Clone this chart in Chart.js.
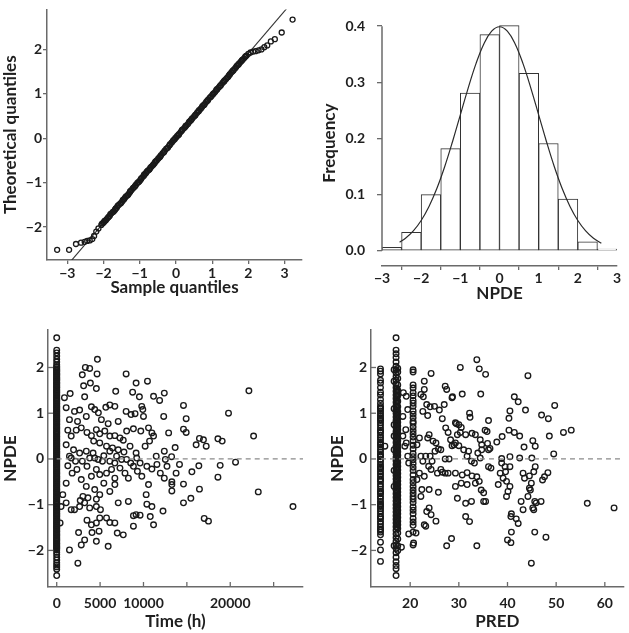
<!DOCTYPE html>
<html>
<head>
<meta charset="utf-8">
<title>NPDE diagnostics</title>
<script src="https://cdn.jsdelivr.net/npm/chart.js@4.4.0/dist/chart.umd.min.js"></script>
<style>
  body { margin: 0; background: #fff; }
  #wrap { position: relative; width: 629px; height: 633px; }
  canvas { position: absolute; }
</style>
</head>
<body>
<div id="wrap">
  <canvas id="qqChart" width="314" height="305" style="left:0;top:0"></canvas>
  <canvas id="histChart" width="315" height="305" style="left:314px;top:0"></canvas>
  <canvas id="timeChart" width="314" height="328" style="left:0;top:305px"></canvas>
  <canvas id="predChart" width="315" height="328" style="left:314px;top:305px"></canvas>
</div>
<script>
// ---------------- DATA ----------------
// QQ plot: [sample quantile, theoretical quantile]
const qqPoints = [
  [-3.28,-2.51],[-2.95,-2.51],[-2.76,-2.38],[-2.62,-2.35],[-2.52,-2.33],[-2.45,-2.31],[-2.38,-2.30],
  [-2.31,-2.27],[-2.26,-2.20],[-2.20,-2.10],[-2.14,-2.03],
  [-2.06,-1.95],[-2.01,-1.91],[-1.97,-1.86],[-1.91,-1.82],[-1.86,-1.77],[-1.81,-1.71],[-1.74,-1.66],
  [-1.69,-1.62],[-1.66,-1.58],[-1.61,-1.52],[-1.54,-1.47],[-1.49,-1.43],[-1.46,-1.39],[-1.41,-1.34],
  [-1.34,-1.29],[-1.29,-1.24],[-1.26,-1.19],[-1.19,-1.13],[-1.14,-1.09],[-1.11,-1.05],[-1.04,-0.99],
  [-0.99,-0.95],[-0.96,-0.91],[-0.89,-0.85],[-0.86,-0.81],[-0.81,-0.76],[-0.74,-0.71],[-0.71,-0.67],
  [-0.64,-0.61],[-0.59,-0.56],[-0.56,-0.52],[-0.49,-0.46],[-0.44,-0.42],[-0.41,-0.38],[-0.34,-0.32],
  [-0.31,-0.28],[-0.24,-0.22],[-0.19,-0.17],[-0.16,-0.13],[-0.09,-0.07],[-0.04,-0.03],[0.01,0.02],
  [0.06,0.07],[0.09,0.10],[0.16,0.17],[0.19,0.20],[0.26,0.26],[0.29,0.29],[0.36,0.36],[0.41,0.40],
  [0.44,0.44],[0.51,0.50],[0.54,0.53],[0.61,0.60],[0.64,0.63],[0.71,0.69],[0.76,0.74],[0.79,0.77],
  [0.86,0.84],[0.89,0.87],[0.96,0.93],[1.01,0.98],[1.04,1.01],[1.11,1.08],[1.14,1.11],[1.21,1.17],
  [1.24,1.20],[1.31,1.27],[1.34,1.30],[1.41,1.36],[1.46,1.41],[1.49,1.44],[1.56,1.51],[1.59,1.54],
  [1.66,1.60],[1.71,1.65],[1.74,1.68],[1.81,1.74],[1.84,1.77],[1.91,1.83],
  [1.95,1.86],[2.00,1.90],[2.06,1.93],[2.13,1.95],[2.20,1.96],[2.28,1.98],[2.36,2.00],[2.44,2.05],
  [2.52,2.09],[2.62,2.18],[2.73,2.23],[2.92,2.38],[3.22,2.67]
];
// the crowded middle of the QQ plot, where the circles merge into a band
const qqBodyExtra = [
  [-2.04,-1.92],[-1.99,-1.89],[-1.94,-1.85],[-1.88,-1.79],[-1.83,-1.75],[-1.78,-1.69],[-1.72,-1.65],
  [-1.67,-1.59],[-1.63,-1.56],[-1.58,-1.50],[-1.52,-1.46],[-1.47,-1.40],[-1.43,-1.37],[-1.38,-1.31],
  [-1.32,-1.27],[-1.27,-1.21],[-1.23,-1.17],[-1.17,-1.11],[-1.12,-1.07],[-1.07,-1.01],[-1.02,-0.98],
  [-0.97,-0.92],[-0.93,-0.88],[-0.88,-0.82],[-0.83,-0.79],[-0.78,-0.73],[-0.73,-0.70],[-0.68,-0.64],
  [-0.62,-0.59],[-0.57,-0.53],[-0.53,-0.50],[-0.47,-0.44],[-0.43,-0.40],[-0.37,-0.34],[-0.33,-0.31],
  [-0.27,-0.24],[-0.22,-0.21],[-0.17,-0.15],[-0.12,-0.10],[-0.07,-0.04],[-0.02,0.00],[0.03,0.05],
  [0.08,0.08],[0.13,0.14],[0.17,0.19],[0.23,0.23],[0.27,0.28],[0.33,0.32],[0.38,0.38],[0.43,0.42],
  [0.48,0.47],[0.53,0.51],[0.58,0.57],[0.63,0.61],[0.68,0.66],[0.73,0.72],[0.78,0.75],[0.83,0.81],
  [0.88,0.85],[0.93,0.91],[0.98,0.95],[1.03,1.00],[1.08,1.04],[1.13,1.09],[1.18,1.14],[1.23,1.18],
  [1.28,1.24],[1.33,1.28],[1.38,1.33],[1.44,1.38],[1.48,1.43],[1.53,1.48],[1.58,1.52],[1.63,1.57],
  [1.68,1.63],[1.73,1.66],[1.78,1.71],[1.83,1.76],[1.88,1.80],[1.93,1.85]
];
const qqLine = [[-3.0,-2.86],[3.1,2.96]];

// histogram of NPDE (bin centres, relative frequency)
const binCenters = [-2.75,-2.25,-1.75,-1.25,-0.75,-0.25,0.25,0.75,1.25,1.75,2.25,2.75];
const binFreq = [0.006,0.033,0.100,0.182,0.281,0.385,0.401,0.316,0.191,0.092,0.016,0.003];
const curveX = [-2.55,-2.4,-2.2,-2.0,-1.8,-1.6,-1.4,-1.2,-1.0,-0.8,-0.6,-0.4,-0.2,0,0.2,0.4,0.6,0.8,1.0,1.2,1.4,1.6,1.8,2.0,2.2,2.4,2.6];
const curveY = [0.0154,0.0224,0.0355,0.0540,0.0790,0.1109,0.1497,0.1942,0.2420,0.2897,0.3332,0.3683,0.3910,0.3989,0.3910,0.3683,0.3332,0.2897,0.2420,0.1942,0.1497,0.1109,0.0790,0.0540,0.0355,0.0224,0.0136];

// NPDE vs time: column of samples at time 0, then the rest
const timeZeroNpde = [
  2.65,2.38,2.32,2.25,2.18,2.12,2.06,2.02,1.97,1.93,1.88,1.84,1.79,1.75,1.71,1.66,1.61,1.57,1.52,1.48,
  1.44,1.39,1.34,1.30,1.26,1.21,1.16,1.12,1.07,1.03,0.99,0.94,0.89,0.85,0.81,0.76,0.71,0.67,0.62,0.58,
  0.54,0.49,0.44,0.40,0.35,0.31,0.27,0.22,0.17,0.13,0.08,0.04,-0.01,-0.05,-0.10,-0.14,-0.18,-0.23,
  -0.28,-0.32,-0.37,-0.41,-0.45,-0.50,-0.55,-0.59,-0.64,-0.68,-0.72,-0.77,-0.82,-0.86,-0.91,-0.95,
  -0.99,-1.04,-1.09,-1.13,-1.18,-1.22,-1.26,-1.31,-1.36,-1.40,-1.45,-1.49,-1.53,-1.58,-1.63,-1.67,
  -1.72,-1.76,-1.80,-1.85,-1.90,-1.94,-1.99,-2.04,-2.09,-2.15,-2.21,-2.27,-2.32,-2.36,-2.41,-2.55,
  2.00,1.95,1.91,1.86,1.82,1.77,1.73,1.68,1.64,1.59,1.55,1.50,1.46,1.41,1.37,1.32,1.28,1.23,1.19,1.14,
  1.10,1.05,1.01,0.96,0.92,0.87,0.83,0.78,0.74,0.69,0.65,0.60,0.56,0.51,0.47,0.42,0.38,0.33,0.29,0.24,
  0.20,0.15,0.11,0.06,0.02,-0.03,-0.07,-0.12,-0.16,-0.21,-0.25,-0.30,-0.34,-0.39,-0.43,-0.48,-0.52,
  -0.57,-0.61,-0.66,-0.70,-0.75,-0.79,-0.84,-0.88,-0.93,-0.97,-1.02,-1.06,-1.11,-1.15,-1.20,-1.24,
  -1.29,-1.33,-1.38,-1.42,-1.47,-1.51,-1.56,-1.60,-1.65,-1.69,-1.74,-1.78,-1.83,-1.87,-1.92,-1.96
];
const timePoints = [
  [4690,2.18],[3300,2.0],[3800,1.98],[2950,1.84],[4650,1.86],[8000,1.86],[3100,1.6],[3880,1.66],
  [4570,1.54],[10460,1.7],[9150,1.66],[6800,1.48],[8750,1.46],[9530,1.36],[12400,1.44],[11160,1.37],
  [11860,1.28],[1550,1.43],[890,1.34],[3220,1.36],[22150,1.49],[14610,1.17],[14920,0.88],[19800,1.0],
  [22690,0.5],[1090,1.12],[2050,1.04],[2640,1.07],[4000,1.14],[4380,1.08],[4800,1.01],[5660,1.13],
  [6120,1.18],[6700,1.15],[3410,0.93],[2400,0.82],[1470,0.86],[5150,0.86],[5930,0.77],[7090,0.82],
  [8000,1.04],[8570,0.97],[9030,0.99],[9800,1.15],[10000,0.93],[9920,1.08],[12330,0.93],[8060,0.61],
  [8840,0.66],[9690,0.61],[10580,0.68],[10970,0.57],[11160,0.5],[12900,0.57],[14610,0.65],[14920,0.58],
  [16450,0.45],[16910,0.42],[17230,0.28],[16070,0.31],[18580,0.44],[19070,0.39],[13650,0.25],[12400,0.17],
  [10190,0.28],[10700,0.39],[1090,0.31],[1670,0.5],[2250,0.63],[1280,0.63],[2830,0.68],[3490,0.58],
  [4000,0.51],[4570,0.64],[4960,0.55],[5540,0.61],[6120,0.5],[6700,0.51],[7290,0.46],[7670,0.41],
  [4260,0.39],[4960,0.35],[5740,0.28],[6430,0.24],[3410,0.17],[4190,0.13],[2640,0.13],[1940,0.2],
  [7090,0.2],[7750,0.15],[8450,0.28],[9150,0.13],[5430,0.07],[6120,0.17],[6900,0.06],[11470,0.06],
  [12520,-0.01],[13240,0.05],[20610,-0.07],[18840,-0.14],[16380,-0.15],[14150,-0.12],
  [1470,0.06],[1280,-0.15],[1780,-0.31],[1090,-0.53],[2330,-0.23],[2950,-0.05],[3490,-0.16],[2830,-0.45],
  [3410,-0.6],[4000,-0.38],[4570,-0.23],[4960,-0.34],[5430,-0.53],[4380,-0.67],[4960,-0.78],[4570,-0.88],
  [5740,-0.31],[6320,-0.23],[6700,-0.42],[7290,-0.2],[7870,-0.31],[8260,-0.42],[8840,-0.16],[9300,-0.27],
  [9810,-0.38],[10390,-0.16],[10970,-0.22],[10580,-0.56],[11940,-0.31],[12400,-0.42],[13270,-0.5],
  [13270,-0.56],[13270,-0.7],[11550,-0.12],[12710,-0.16],[13760,-0.31],[15580,-0.28],[18580,-0.4],
  [14610,-0.55],[16450,-0.66],[14610,-0.96],[15460,-0.86],[23230,-0.72],[27230,-1.04],[17000,-1.3],
  [17490,-1.36],[12250,-1.14],[11160,-1.44],[10780,-1.26],[10390,-0.99],[10970,-1.04],[10310,-0.78],
  [8840,-1.24],[9150,-1.22],[9610,-1.23],[8840,-1.47],[8260,-0.93],[7090,-0.96],[6700,-0.56],[6120,-0.71],
  [5740,-1.29],[6120,-1.39],[6700,-1.4],[6980,-1.62],[7670,-1.66],[5930,-1.91],[4960,-1.29],[4570,-1.4],
  [4000,-1.44],[3490,-1.34],[4070,-1.61],[4570,-1.8],[4880,-1.58],[3220,-1.77],[2830,-1.88],[2520,-1.61],
  [1470,-1.99],[2440,-2.28],[1090,-0.96],[700,-0.78],[1670,-1.11],[2050,-1.11],[2640,-1.04],[3220,-0.96],
  [3800,-1.07],[4570,-1.04],[5040,-1.11],[3020,-0.82],[3600,-0.85],[2710,-0.91],[500,-1.04],[390,-1.4],
  [1670,0.02],[2170,-0.05],[3800,0.02],[4380,0.02],[4770,-0.01],[5270,-0.05],[6120,-0.05],[6700,-0.09],
  [7480,-0.01],[8060,-0.01],[8530,-0.09],[9220,0.02],[9610,-0.09]
];

// NPDE vs PRED: dense columns of low predictions, then the rest
const predColA = [
  1.97,1.92,1.86,1.72,1.66,1.56,1.46,1.40,1.30,1.22,1.15,1.10,1.05,1.00,0.95,0.90,0.84,0.79,0.74,0.68,
  0.63,0.58,0.52,0.47,0.42,0.36,0.31,0.26,0.20,0.15,0.10,0.05,-0.01,-0.06,-0.12,-0.17,-0.22,-0.28,-0.33,
  -0.38,-0.44,-0.49,-0.55,-0.60,-0.66,-0.71,-0.76,-0.82,-0.87,-0.93,-0.98,-1.04,-1.09,-1.14,-1.20,-1.26,
  -1.31,-1.37,-1.42,-1.48,-1.53,-1.60,-1.66,-1.82,-1.99,-2.24,
  1.12,0.87,0.60,0.33,0.07,-0.20,-0.46,-0.74,-1.01,-1.28,-1.56
];
const predColB1 = [
  2.65,2.38,2.30,2.22,2.12,2.03,1.95,1.88,1.80,1.72,1.64,1.56,1.48,1.40,1.32,1.24,1.16,1.08,1.00,0.92,
  0.84,0.76,0.68,0.60,0.52,0.44,0.36,0.28,0.20,0.12,0.04,-0.04,-0.12,-0.20,-0.28,-0.36,-0.44,-0.52,-0.60,
  -0.68,-0.76,-0.84,-0.92,-1.00,-1.08,-1.16,-1.24,-1.32,-1.40,-1.48,-1.56,-1.64,-1.72,-1.80,-1.88,-1.96,
  -2.05,-2.15,-2.25,-2.33,-2.40,-2.55
];
const predColB2 = [
  1.98,1.90,1.76,1.62,1.50,1.38,1.26,1.14,1.04,0.96,0.88,0.80,0.72,0.64,0.56,0.48,0.40,0.32,0.24,0.16,
  0.08,0.00,-0.08,-0.16,-0.24,-0.32,-0.40,-0.48,-0.56,-0.64,-0.72,-0.80,-0.88,-0.96,-1.04,-1.12,-1.20,
  -1.28,-1.36,-1.44,-1.52,-1.62,-1.75,-1.90,-2.00
];
const predColB3 = [
  1.54,1.46,1.38,1.30,1.22,1.14,1.06,0.98,0.90,0.82,0.74,0.66,0.58,0.50,0.42,0.34,0.26,0.18,0.10,0.02,
  -0.06,-0.14,-0.22,-0.30,-0.38,-0.46,-0.54,-0.62,-0.70,-0.78,-0.86,-0.94,-1.02,-1.10,-1.18,-1.26,-1.34,
  -1.42,-1.50
];
const predColC = [
  1.95,1.90,1.62,1.55,1.45,1.38,1.28,1.22,1.15,1.05,0.98,0.90,0.82,0.78,0.70,0.62,0.55,0.48,0.40,0.30,
  0.22,0.12,0.05,-0.02,-0.10,-0.18,-0.25,-0.35,-0.45,-0.52,-0.60,-0.68,-0.75,-0.82,-0.88,-0.95,-1.05,
  -1.12,-1.20,-1.30,-1.38,-1.45,-1.60,-1.88
];
const predPoints = [
  [16.7,1.95],[16.7,1.7],[16.7,1.1],[16.7,0.75],[16.7,0.5],[16.7,0.2],[16.7,-0.25],[16.7,-0.6],[16.7,-1.9],
  [14.8,0.28],[18.6,1.45],[19.2,1.37],[18.5,0.93],[19.5,1.08],[19.2,0.35],[18.5,0.5],[19.1,0.64],[18.9,0.28],
  [19.5,0.06],[19.7,-0.09],[18.2,-1.93],[19.7,-1.64],[20.7,-1.84],[21.2,-1.62],
  [24.3,1.87],[22.9,1.7],[22.9,1.52],[22.7,1.36],[22.2,1.41],[27.2,1.59],[27.5,1.52],[27.0,1.19],[23.4,1.19],
  [25.0,1.15],[24.1,1.14],[26.0,1.07],[22.6,1.04],[23.6,0.95],[26.6,0.88],[27.3,0.68],[27.8,0.58],[23.9,0.53],
  [23.6,0.46],[24.7,0.39],[25.3,0.35],[25.8,0.22],[25.1,0.17],[26.3,0.2],[21.9,0.46],[21.4,0.31],[22.2,0.06],
  [23.2,0.06],[22.6,-0.05],[23.8,-0.16],[26.3,-0.23],[27.2,-0.31],[27.8,-0.31],[23.9,-1.07],[23.4,-1.15],
  [24.3,-1.22],[25.3,-1.36],[22.9,-1.44],[23.2,-1.47],[22.4,-0.67],[23.9,-0.67],[22.2,-0.82],[25.8,-0.73],
  [21.4,-0.45],[21.9,-0.31],[22.9,-0.38],[24.1,0.06],[24.5,-0.05],[24.3,-0.23],[26.6,-0.29],[25.6,-0.31],
  [27.2,0.0],[28.0,0.0],[27.5,-1.9],[28.7,1.36],[29.3,0.79],[30.0,0.75],
  [33.7,2.17],[30.3,2.0],[34.2,1.97],[35.5,1.85],[44.2,1.82],[28.6,1.34],[30.7,1.42],[34.5,1.42],
  [41.4,1.36],[42.2,1.25],[43.7,1.07],[49.7,1.17],[40.5,1.05],[40.3,0.89],[47.0,0.96],[48.4,0.88],
  [32.2,1.0],[32.3,0.91],[36.1,0.84],[29.5,0.77],[30.5,0.69],[35.4,0.63],[35.8,0.6],[40.3,0.63],
  [41.4,0.58],[42.5,0.5],[45.2,0.4],[45.7,0.28],[48.6,0.5],[51.5,0.58],[53.1,0.63],[49.5,0.11],
  [43.4,0.26],[38.9,0.49],[37.8,0.37],[29.7,0.53],[30.3,0.58],[31.4,0.53],[32.7,0.56],[33.4,0.53],
  [34.4,0.42],[34.7,0.31],[35.9,0.34],[36.1,0.2],[36.4,0.23],[28.3,0.42],[29.0,0.31],[30.0,0.29],
  [31.0,0.2],[32.0,0.17],[31.7,0.06],[32.6,-0.05],[33.2,-0.09],[33.9,0.13],[34.4,0.02],[34.7,0.2],
  [29.3,0.35],[28.6,0.29],[38.8,0.01],[40.5,0.05],[42.5,0.02],[45.0,0.02],[38.8,-0.09],[39.5,-0.17],
  [40.5,-0.17],[39.6,-0.28],[38.5,-0.31],[39.1,-0.42],[38.1,-0.56],[39.8,-0.49],[40.5,-0.6],[40.1,-0.71],
  [39.8,-0.82],[43.2,-0.31],[43.5,-0.42],[44.5,-0.37],[44.9,-0.53],[45.4,-0.28],[45.7,-0.17],[44.5,-0.64],
  [44.7,-0.68],[44.2,-0.82],[42.8,-0.93],[43.2,-1.11],[45.6,-0.93],[45.9,-0.96],[46.9,-0.93],[45.2,-1.07],
  [45.4,-1.11],[47.6,-0.39],[48.3,-0.3],[47.2,-0.46],[40.8,-1.2],[41.8,-1.31],[42.2,-1.41],[40.7,-1.26],
  [45.6,-1.6],[47.9,-1.71],[40.8,-1.6],[40.0,-1.77],[40.7,-1.83],[44.9,-2.28],[56.4,-0.97],[61.9,-1.07],
  [33.7,-1.9],[28.5,-1.74],[31.4,-1.26],[32.2,-1.37],[29.7,-0.86],[31.4,-0.97],[32.6,-0.93],[35.1,-0.93],
  [35.5,-0.93],[29.3,-0.6],[30.5,-0.53],[31.7,-0.56],[33.4,-0.53],[34.2,-0.49],[34.6,-0.68],[35.1,-0.74],
  [29.3,-0.31],[30.7,-0.35],[31.7,-0.3],[32.7,-0.37],[33.7,-0.39],[36.1,-0.17],[36.6,-0.2]
];

// ---------------- STYLE ----------------
const FONT = 'Lato, "Open Sans", "DejaVu Sans", sans-serif';
const INK = '#1f1f1f';
const AXIS_COL = '#6a6a6a';

const minus = v => (v < 0 ? '\u2212' + Math.abs(v) : String(v));
const toXY = arr => arr.map(p => ({ x: p[0], y: p[1] }));
const column = (x, ys) => ys.map(y => ({ x: x, y: y }));

function axis(o) {
  return {
    type: 'linear', min: o.min, max: o.max, offset: false,
    afterBuildTicks: s => { s.ticks = o.ticks.map(v => ({ value: v })); },
    afterFit: s => {
      if (o.width != null) s.width = o.width;
      if (o.height != null) s.height = o.height;
    },
    ticks: {
      color: INK, padding: o.pad, maxRotation: 0, autoSkip: false,
      font: { family: FONT, size: 14, weight: 'bold' },
      callback: o.fmt || minus
    },
    grid: {
      drawOnChartArea: false, drawTicks: o.tick > 0, tickLength: o.tick || 0,
      color: AXIS_COL, lineWidth: 1.3
    },
    border: { display: o.border !== false, color: AXIS_COL, width: 1.5 },
    title: {
      display: true, text: o.title, color: INK, padding: o.tpad,
      font: { family: FONT, size: 17, weight: 'bold' }
    }
  };
}

// axis pieces chart.js can't do by itself: inward ticks, y axis that stops at the data range
const rAxes = {
  id: 'rAxes',
  afterDraw(chart, args, opts) {
    const { ctx, chartArea: a, scales } = chart;
    ctx.save();
    ctx.strokeStyle = AXIS_COL;
    if (opts.inner) {
      ctx.lineWidth = 1.3;
      scales.x.ticks.forEach(t => {
        const p = scales.x.getPixelForValue(t.value);
        ctx.beginPath(); ctx.moveTo(p, a.bottom); ctx.lineTo(p, a.bottom - 5); ctx.stroke();
      });
      scales.y.ticks.forEach(t => {
        const p = scales.y.getPixelForValue(t.value);
        ctx.beginPath(); ctx.moveTo(a.left, p); ctx.lineTo(a.left + 5, p); ctx.stroke();
      });
    }
    if (opts.yRange) {
      ctx.lineWidth = 1.5;
      ctx.beginPath();
      ctx.moveTo(a.left, scales.y.getPixelForValue(opts.yRange[0]));
      ctx.lineTo(a.left, scales.y.getPixelForValue(opts.yRange[1]));
      ctx.stroke();
    }
    ctx.restore();
  }
};

const common = {
  responsive: false, animation: false,
  plugins: { legend: { display: false }, tooltip: { enabled: false } }
};

const openPoint = (r, w, col) => ({
  pointRadius: r, pointBorderWidth: w, pointBorderColor: col,
  pointBackgroundColor: 'rgba(0,0,0,0)', showLine: false
});
const DOT = openPoint(2.8, 1.35, '#1a1a1a');

// ---------------- QQ PLOT ----------------
new Chart(document.getElementById('qqChart'), {
  type: 'scatter',
  data: {
    datasets: [
      Object.assign({ data: toXY(qqPoints) }, openPoint(2.5, 1.3, '#1a1a1a')),
      Object.assign({ data: toXY(qqBodyExtra) }, openPoint(2.5, 1.3, '#1a1a1a')),
      { data: toXY(qqLine), showLine: true, pointRadius: 0, borderColor: '#333', borderWidth: 1.1 }
    ]
  },
  options: Object.assign({}, common, {
    layout: { padding: { left: 0, top: 3, right: 12, bottom: 0 } },
    scales: {
      x: axis({ min: -3.56, max: 3.48, ticks: [-3,-2,-1,0,1,2,3], tick: 4, pad: 1, height: 45,
                title: 'Sample quantiles', tpad: { top: 0, bottom: 7 } }),
      y: axis({ min: -2.74, max: 2.9, ticks: [-2,-1,0,1,2], tick: 4, pad: 1, width: 47,
                title: 'Theoretical quantiles', tpad: { top: 0, bottom: 0 } })
    }
  })
});

// ---------------- HISTOGRAM ----------------
new Chart(document.getElementById('histChart'), {
  type: 'bar',
  data: {
    datasets: [
      {
        type: 'bar', data: binCenters.map((c, i) => ({ x: c, y: binFreq[i] })),
        backgroundColor: '#fff', borderColor: '#333', borderWidth: 1, borderSkipped: false,
        categoryPercentage: 1, barPercentage: 1, order: 2
      },
      {
        type: 'line', data: curveX.map((x, i) => ({ x: x, y: curveY[i] })),
        borderColor: '#2a2a2a', borderWidth: 1.2, pointRadius: 0, tension: 0.4, fill: false, order: 1
      }
    ]
  },
  options: Object.assign({}, common, {
    layout: { padding: { left: 0, top: 8, right: 12, bottom: 0 } },
    plugins: Object.assign({}, common.plugins, { rAxes: { yRange: [0, 0.4] } }),
    scales: {
      x: axis({ min: -3, max: 3, ticks: [-3,-2,-1,0,1,2,3], tick: 4, pad: 0, height: 39,
                title: 'NPDE', tpad: { top: 0, bottom: 1 } }),
      y: axis({ min: -0.0271, max: 0.4102, ticks: [0,0.1,0.2,0.3,0.4], tick: 5, pad: 12, width: 68,
                border: false, fmt: v => v.toFixed(1),
                title: 'Frequency', tpad: { top: 5, bottom: 0 } })
    }
  }),
  plugins: [rAxes]
});

// ---------------- NPDE vs TIME ----------------
new Chart(document.getElementById('timeChart'), {
  type: 'scatter',
  data: {
    datasets: [
      { data: [{ x: 0, y: 0 }, { x: 28385, y: 0 }], showLine: true, pointRadius: 0,
        borderColor: '#8a8a8a', borderWidth: 1.3, borderDash: [5, 4] },
      Object.assign({ data: column(0, timeZeroNpde) }, DOT),
      Object.assign({ data: toXY(timePoints) }, DOT)
    ]
  },
  options: Object.assign({}, common, {
    layout: { padding: { left: 0, top: 25, right: 11, bottom: 0 } },
    plugins: Object.assign({}, common.plugins, { rAxes: { inner: true } }),
    scales: {
      x: axis({ min: -1004, max: 28385, ticks: [0,5000,10000,15000,20000,25000], pad: 8, height: 46,
                fmt: v => ([0, 5000, 10000, 20000].includes(v) ? String(v) : ''),
                title: 'Time (h)', tpad: { top: 0, bottom: 1 } }),
      y: axis({ min: -2.8, max: 2.82, ticks: [-2,-1,0,1,2], pad: 4, width: 48,
                title: 'NPDE', tpad: { top: 0, bottom: 0 } })
    }
  }),
  plugins: [rAxes]
});

// ---------------- NPDE vs PRED ----------------
new Chart(document.getElementById('predChart'), {
  type: 'scatter',
  data: {
    datasets: [
      { data: [{ x: 14, y: 0 }, { x: 63.87, y: 0 }], showLine: true, pointRadius: 0,
        borderColor: '#8a8a8a', borderWidth: 1.3, borderDash: [5, 4] },
      Object.assign({ data: column(13.9, predColA) }, DOT),
      Object.assign({ data: column(17.1, predColB1) }, DOT),
      Object.assign({ data: column(17.28, predColB3) }, DOT),
      Object.assign({ data: column(17.45, predColB2) }, DOT),
      Object.assign({ data: column(20.6, predColC) }, DOT),
      Object.assign({ data: toXY(predPoints) }, DOT)
    ]
  },
  options: Object.assign({}, common, {
    layout: { padding: { left: 0, top: 25, right: 2, bottom: 0 } },
    plugins: Object.assign({}, common.plugins, { rAxes: { inner: true } }),
    scales: {
      x: axis({ min: 11.95, max: 63.87, ticks: [20,30,40,50,60], pad: 8, height: 46,
                title: 'PRED', tpad: { top: 0, bottom: 1 } }),
      y: axis({ min: -2.8, max: 2.82, ticks: [-2,-1,0,1,2], pad: 4, width: 57,
                title: 'NPDE', tpad: { top: 13, bottom: 0 } })
    }
  }),
  plugins: [rAxes]
});
</script>
</body>
</html>
